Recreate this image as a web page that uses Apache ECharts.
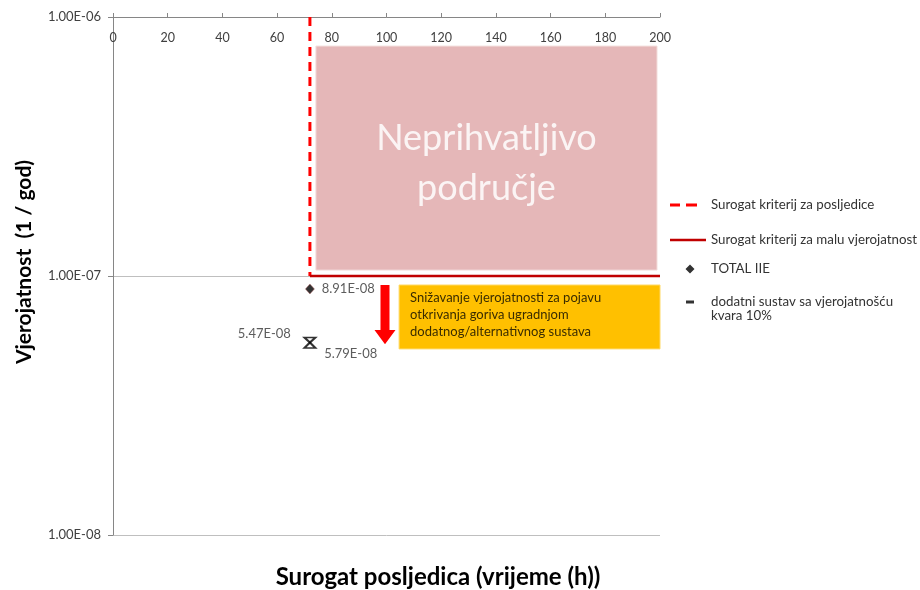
<!DOCTYPE html>
<html><head><meta charset="utf-8">
<script src="https://cdn.jsdelivr.net/npm/echarts@6/dist/echarts.min.js"></script>
<style>html,body{margin:0;padding:0;background:#fff}#c{width:920px;height:590px}</style>
</head><body><div id="c"></div>
<script>
// ---- data ----
const seriesNames = [
  'Surogat kriterij za posljedice',
  'Surogat kriterij za malu vjerojatnost',
  'TOTAL IIE',
  'dodatni sustav sa vjerojatnošću kvara 10%'
];
const consequenceCritX = [72, 72];
const consequenceCritY = [1e-6, 1e-7];
const probabilityCritX = [72, 200];
const probabilityCritY = [1e-7, 1e-7];
const totalIIEX = [72];
const totalIIEY = [8.91e-8];
const additionalX = [72, 72];
const additionalY = [5.79e-8, 5.47e-8];
const xAxisRange = [0, 200];
const xTickStep = 20;
const yAxisRange = [1e-8, 1e-6];
// annotations (data coordinates)
const unacceptableArea = [[74.2, 7.72e-7], [198.9, 1.054e-7]];
const unacceptableText = 'Neprihvatljivo\npodručje';
const arrowData = {x: 99.45, top: 9.23e-8, headStart: 6.19e-8, tip: 5.45e-8};
const noteBoxData = [[104.6, 9.23e-8], [200, 5.23e-8]];
const noteText = 'Snižavanje vjerojatnosti za pojavu\notkrivanja goriva ugradnjom\ndodatnog/alternativnog sustava';
const yTitle = 'Vjerojatnost  (1 / god)';
const xTitle = 'Surogat posljedica (vrijeme (h))';

function sci(v) {
  const e = Math.floor(Math.log10(v) + 1e-9);
  const m = v / Math.pow(10, e);
  return m.toFixed(2) + 'E' + (e < 0 ? '-' : '+') + String(Math.abs(e)).padStart(2, '0');
}
const zip = (xs, ys) => xs.map((x, i) => [x, ys[i]]);

const FONT = 'Lato';
const txt = {fontFamily: FONT, fontSize: 13.3, color: '#333'};

const chart = echarts.init(document.getElementById('c'), null, {renderer: 'canvas'});

const corner = 'M0,0 L0.1,0 L0,0.1 Z M35.9,14 L36,14 L36,13.9 Z ';
const icons = [
  'path://' + corner + 'M0,5.5 L10,5.5 L10,8.5 L0,8.5 Z M16,5.5 L27,5.5 L27,8.5 L16,8.5 Z',
  'path://' + corner + 'M0,5.8 L36,5.8 L36,8.2 L0,8.2 Z',
  'path://' + corner + 'M20,2.5 L24.5,7 L20,11.5 L15.5,7 Z',
  'path://' + corner + 'M16,5.5 L24,5.5 L24,8.5 L16,8.5 Z'
];
const iconColors = ['#FF0000', '#C00000', '#000', '#000'];
const legendTops = [198, 233, 262, 281];

const legends = seriesNames.map((n, i) => ({
  data: [{name: n, icon: icons[i], itemStyle: {color: iconColors[i], borderWidth: 0, borderColor: 'transparent'}}],
  left: 670, top: legendTops[i], itemWidth: 36, itemHeight: 14, padding: 0,
  selectedMode: false,
  formatter: i === 3 ? () => '\ndodatni sustav sa vjerojatnošću\nkvara 10%' : undefined,
  textStyle: i === 3 ? Object.assign({}, txt, {lineHeight: 14}) : Object.assign({}, txt)
}));

chart.setOption({
  animation: false,
  backgroundColor: '#fff',
  grid: {left: 113, right: 260, top: 17, bottom: 55},
  legend: legends,
  xAxis: {
    type: 'value', position: 'top', min: xAxisRange[0], max: xAxisRange[1], interval: xTickStep,
    axisLine: {show: true, onZero: false, lineStyle: {color: '#868686', width: 1}},
    axisTick: {show: true, inside: false, length: 4, lineStyle: {color: '#868686'}},
    axisLabel: {inside: true, margin: 14, fontFamily: FONT, fontSize: 12.5, color: '#404040'},
    splitLine: {show: false}
  },
  yAxis: {
    type: 'log', logBase: 10, min: yAxisRange[0], max: yAxisRange[1],
    name: yTitle, nameLocation: 'middle', nameGap: 78,
    nameTextStyle: {fontFamily: FONT, fontSize: 21, fontWeight: 'bold', color: '#000', padding: [0, 0, 0, 28]},
    axisLine: {show: true, lineStyle: {color: '#868686', width: 1}},
    axisTick: {show: true, length: 5, lineStyle: {color: '#868686'}},
    minorTick: {show: false},
    axisLabel: {formatter: v => sci(v), margin: 12, fontFamily: FONT, fontSize: 13, color: '#404040'},
    splitLine: {show: true, showMinLine: true, showMaxLine: true, lineStyle: {color: '#BFBFBF', width: 1}}
  },
  series: [
    {
      name: seriesNames[0], type: 'line', data: zip(consequenceCritX, consequenceCritY),
      symbol: 'none', itemStyle: {color: '#FF0000'},
      lineStyle: {color: '#FF0000', width: 3, type: [9, 6]}, z: 3
    },
    {
      name: seriesNames[1], type: 'line', data: zip(probabilityCritX, probabilityCritY),
      symbol: 'none', itemStyle: {color: '#C00000'},
      lineStyle: {color: '#C00000', width: 2.5}, z: 3,
      markArea: {
        silent: true,
        itemStyle: {color: '#E5B7B8', borderColor: '#F2DCDB', borderWidth: 1},
        label: {show: true, position: 'inside', formatter: unacceptableText, fontFamily: FONT,
                fontSize: 36, lineHeight: 50, color: '#FBF4F4', align: 'center', offset: [0, 5]},
        data: [[{coord: unacceptableArea[0]}, {coord: unacceptableArea[1]}]]
      }
    },
    {
      name: seriesNames[2], type: 'scatter', data: zip(totalIIEX, totalIIEY),
      symbol: 'diamond', symbolSize: [9, 10],
      itemStyle: {color: '#000', borderColor: '#b06060', borderWidth: 0.6}, z: 5,
      label: {show: true, position: 'right', distance: 7, formatter: p => sci(p.value[1]),
              fontFamily: FONT, fontSize: 13, color: '#333'}
    },
    {
      name: seriesNames[3], type: 'scatter', z: 5,
      itemStyle: {color: 'none', borderColor: '#000', borderWidth: 2},
      data: zip(additionalX, additionalY).map((d, i) => ({
        value: d,
        symbol: i === 0 ? 'path://M0,0 L10,0 L5,5 Z' : 'path://M5,0 L10,5.5 L0,5.5 Z',
        symbolSize: i === 0 ? [11, 5] : [11, 5.5],
        symbolOffset: i === 0 ? [0, 2.5] : [0, 1.35],
        label: {
          show: true, formatter: p => sci(p.value[1]),
          position: i === 0 ? 'right' : 'left', distance: 5,
          offset: i === 0 ? [0, 14] : [-5, -11.5],
          fontFamily: FONT, fontSize: 13, color: '#333'
        }
      }))
    }
  ]
});

// annotations placed through the axes
const px = d => chart.convertToPixel({gridIndex: 0}, d);
const aTop = px([arrowData.x, arrowData.top]);
const aHead = px([arrowData.x, arrowData.headStart]);
const aTip = px([arrowData.x, arrowData.tip]);
const cx = aTop[0];
const b0 = px(noteBoxData[0]);
const b1 = px(noteBoxData[1]);
chart.setOption({
  graphic: [
    {type: 'polygon', z: 10, shape: {points: [
      [cx - 4.5, aTop[1]], [cx + 4.5, aTop[1]], [cx + 4.5, aHead[1]], [cx + 10.5, aHead[1]],
      [cx, aTip[1]], [cx - 10.5, aHead[1]], [cx - 4.5, aHead[1]]]},
      style: {fill: '#FF0000'}},
    {type: 'rect', z: 10, shape: {x: b0[0], y: b0[1], width: b1[0] - b0[0], height: b1[1] - b0[1]},
      style: {fill: '#FFC000', stroke: '#FFD966', lineWidth: 1}},
    {type: 'text', z: 11, x: b0[0] + 11, y: b0[1] + 4.5,
      style: {text: noteText, font: '13px ' + FONT, fill: '#3a2c00', lineHeight: 17}},
    {type: 'text', z: 11, x: 438, y: 577,
      style: {text: xTitle, font: 'bold 24px ' + FONT, fill: '#000', textAlign: 'center', textVerticalAlign: 'middle'}}
  ]
});
</script></body></html>
